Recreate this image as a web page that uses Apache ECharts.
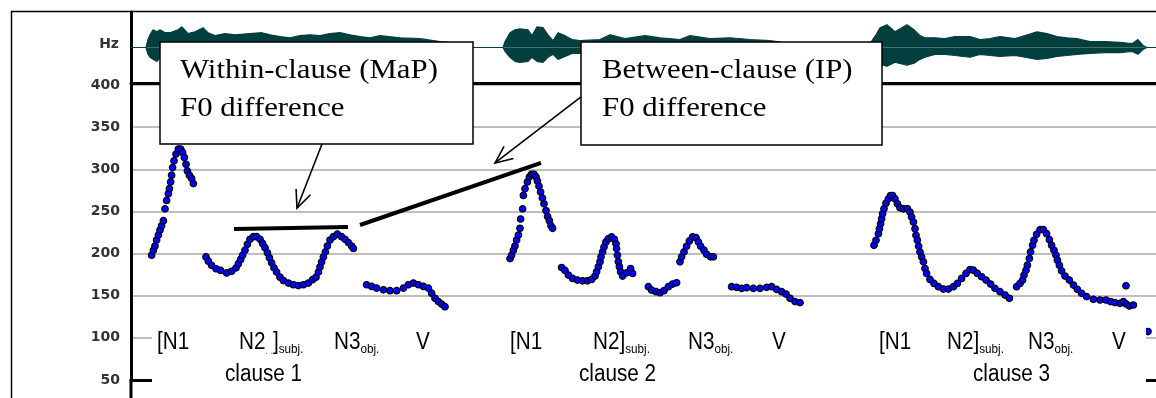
<!DOCTYPE html>
<html>
<head>
<meta charset="utf-8">
<script src="https://cdn.jsdelivr.net/npm/echarts@6/dist/echarts.min.js"></script>
<style>
  html, body { margin: 0; padding: 0; background: #fff; }
  #chart { width: 1156px; height: 398px; }
</style>
</head>
<body>
<div id="chart"></div>
<script>
// ---------------- data ----------------
// time axis in milliseconds
const timeMax = 5125;

// waveform amplitude envelope (upper / lower), relative units
const waveTime  = [0, 75, 85, 95, 110, 130, 145, 170, 195, 235, 255, 285, 320, 360, 385, 420, 470, 520, 595, 655, 695, 745, 795, 845, 895, 945, 995, 1045, 1095, 1145, 1195, 1245, 1345, 1445, 1545, 1645, 1685,
                   1860, 1870, 1895, 1920, 1945, 1985, 2005, 2030, 2060, 2085, 2110, 2135, 2170, 2205, 2245, 2345, 2395, 2470, 2570, 2645, 2745, 2795, 2895, 2995, 3095, 3195, 3295, 3495, 3695,
                   3725, 3745, 3780, 3820, 3880, 3915, 3945, 3970, 4020, 4070, 4120, 4195, 4245, 4295, 4345, 4420, 4470, 4530, 4580, 4630, 4680, 4730, 4795, 4870, 4945, 5005, 5035, 5060, 5080, 5125];
const waveUpper = [0, 0, 0.27, 0.43, 0.60, 0.53, 0.60, 0.50, 0.50, 0.60, 0.70, 0.47, 0.53, 0.67, 0.50, 0.40, 0.47, 0.43, 0.47, 0.50, 0.43, 0.37, 0.33, 0.40, 0.43, 0.40, 0.47, 0.50, 0.43, 0.37, 0.33, 0.40, 0.33, 0.30, 0.20, 0.13, 0,
                   0, 0.20, 0.50, 0.60, 0.63, 0.60, 0.40, 0.70, 0.67, 0.43, 0.23, 0.50, 0.40, 0.27, 0.23, 0.27, 0.43, 0.30, 0.40, 0.33, 0.27, 0.40, 0.30, 0.33, 0.27, 0.23, 0.13, 0.10, 0.13,
                   0.43, 0.67, 0.77, 0.53, 0.77, 0.60, 0.40, 0.33, 0.33, 0.30, 0.37, 0.37, 0.27, 0.30, 0.37, 0.30, 0.40, 0.53, 0.47, 0.37, 0.33, 0.30, 0.20, 0.20, 0.17, 0.13, 0.27, 0.07, 0, 0];
const waveLower = [0, 0, -0.23, -0.33, -0.40, -0.47, -0.33, -0.30, -0.33, -0.40, -0.47, -0.33, -0.27, -0.40, -0.27, -0.23, -0.33, -0.30, -0.30, -0.33, -0.27, -0.23, -0.20, -0.27, -0.30, -0.23, -0.30, -0.33, -0.27, -0.23, -0.20, -0.27, -0.20, -0.20, -0.17, -0.13, 0,
                   0, -0.13, -0.33, -0.47, -0.50, -0.47, -0.33, -0.47, -0.50, -0.33, -0.23, -0.40, -0.30, -0.20, -0.20, -0.23, -0.33, -0.23, -0.30, -0.27, -0.23, -0.33, -0.27, -0.27, -0.23, -0.20, -0.13, -0.10, -0.13,
                   -0.33, -0.57, -0.63, -0.50, -0.60, -0.53, -0.40, -0.33, -0.23, -0.23, -0.27, -0.33, -0.23, -0.27, -0.30, -0.27, -0.33, -0.40, -0.37, -0.30, -0.27, -0.23, -0.20, -0.17, -0.17, -0.13, -0.23, -0.07, 0, 0];

// F0 track, [time ms, Hz]
const clause1Track = [
  [103,198],[112,204],[120,209],[128,216],[137,222],[145,228],[153,233],[162,239],[170,253],[178,263],[187,271],[192,277],[198,285],[203,293],[208,302],[215,310],[225,318],[237,324],[248,324],[258,320],[267,314],[275,306],[282,298],[292,293],[303,289],[312,283],
  [375,196],[387,191],[403,186],[425,182],[448,180],[478,177],[503,179],[525,183],[537,188],[548,193],[558,198],[570,204],[582,211],[595,217],[612,220],[628,220],[645,217],[658,212],[670,207],[682,201],[692,195],[703,189],[715,183],[728,178],[745,172],[762,168],[787,165],[812,163],[837,162],[862,163],[887,165],[908,169],[925,172],[937,178],[945,184],[953,190],[962,196],[972,202],[982,209],[995,216],[1012,220],[1032,223],[1053,220],[1070,217],[1087,213],[1103,209],[1112,206],
  [1178,163],[1203,161],[1228,159],[1262,157],[1295,156],[1328,156],[1362,159],[1387,163],[1412,165],[1437,163],[1462,161],[1487,159],[1503,153],[1520,147],[1537,143],[1553,140],[1570,137]
];
const clause2Track = [
  [1895,194],[1903,198],[1912,204],[1920,209],[1928,216],[1937,222],[1945,230],[1948,241],[1958,253],[1962,269],[1970,277],[1982,285],[1992,291],[2003,294],[2015,294],[2025,291],[2032,286],[2040,280],[2048,273],[2057,266],[2065,259],[2075,251],[2083,244],[2092,239],[2100,233],[2108,230],
  [2153,183.5],[2170,180],[2187,174.5],[2208,170.5],[2232,168.5],[2258,167.7],[2282,167.7],[2303,169.3],[2320,173.3],[2328,178.4],[2337,184.3],[2345,190.2],[2350,196.1],[2358,202],[2365,207.9],[2375,213.8],[2387,217.7],[2403,219.7],[2417,217],[2425,211.8],[2428,205.9],[2432,198],[2437,190.2],[2442,184.3],[2448,178.4],[2458,173.3],[2478,177.2],[2498,182.3],[2508,176.4],
  [2587,160.7],[2603,156.7],[2625,154.8],[2645,153.6],[2665,156],[2687,160.7],[2708,163.8],[2728,165.4],
  [2745,190.2],[2753,196.1],[2765,202],[2778,208.7],[2792,215],[2808,219.7],[2825,218.9],[2837,213.8],[2848,208.7],[2865,204],[2878,199.2],[2898,196.1],[2912,196.1],
  [3003,160.7],[3028,159.9],[3053,158.7],[3078,159.5],[3112,158.7],[3145,158.7],[3178,159.9],[3203,160.7],[3228,157.5],[3253,154.8],[3275,152],[3295,146.9],[3320,143],[3345,141.8]
];
const clause3Track = [
  [3715,209.8],[3725,215.7],[3737,223.6],[3742,229.5],[3748,235.4],[3753,241.3],[3758,247.2],[3765,253.1],[3775,259.8],[3787,264.9],[3798,268.9],[3808,268.9],[3820,264.9],[3832,259],[3845,254.3],[3862,253.1],[3882,253.1],[3895,249.2],[3903,243.3],[3912,237.4],[3920,229.5],[3925,221.7],[3932,215.7],[3938,208.7],[3945,202],[3953,196.1],[3962,190.2],[3970,182.3],[3978,176.4],[3995,169.3],[4015,164.6],[4037,160.7],[4062,157.9],[4087,157.9],[4112,160.7],[4132,164.6],[4153,170.5],[4175,176.4],[4195,181.1],[4212,180.3],[4232,176.4],[4253,172.5],[4275,168.5],[4298,163.8],[4320,158.7],[4345,154.8],[4370,150.8],[4392,146.9],
  [4428,160.7],[4445,164.6],[4458,168.5],[4465,174.4],[4475,180.3],[4482,186.2],[4492,194.1],[4498,202],[4508,209.8],[4515,215.7],[4528,222.8],[4545,228.3],[4562,228.3],[4578,223.6],[4592,216.5],[4603,209.8],[4615,203.9],[4625,198],[4632,192.1],[4642,186.2],[4653,179.5],[4670,173.3],[4692,168.5],[4712,162.6],[4732,157.5],[4753,152.8],[4778,148.9],[4812,145.7],[4845,144.9],[4875,144.9],[4898,143],[4920,141.8],[4945,141],[4962,143],[4975,140.2],[4992,137.8],[5012,139]
];
const strayPoints = [[4975,161.8],[5085,107.5]];

// F0 levels compared in the callouts: [time ms, Hz]
const mapLevel = [[515,229.2],[1085,231.5]];
const ipLevel  = [[1145,233.9],[2050,307.5]];
// callout arrows: from box to level line, [time ms, Hz]
const mapArrow = [[955,330],[830,254]];
const ipArrow  = [[2250,385.8],[1820,307.5]];

// word and clause labels with their onsets (ms)
const wordLabels = [
  '{w|[N1}', '{w|N2}{d|. .}{w|]}{s|subj.}', '{w|N3}{s|obj.}', '{w|V}',
  '{w|[N1}', '{w|N2]}{s|subj.}', '{w|N3}{s|obj.}', '{w|V}',
  '{w|[N1}', '{w|N2]}{s|subj.}', '{w|N3}{s|obj.}', '{w|V}'
];
const wordOnsets = [130, 540, 1015, 1425, 1895, 2310, 2785, 3205, 3740, 4080, 4485, 4905];
const clauseLabels = ['clause 1', 'clause 2', 'clause 3'];
const clauseOnsets = [470, 2240, 4210];

const calloutTexts = [
  ['Within-clause (MaP)', 'F0 difference'],
  ['Between-clause (IP)', 'F0 difference']
];

// ---------------- chart ----------------
const waveColor = '#043f3f';
const tickFont = { fontFamily: 'DejaVu Sans', fontSize: 14, fontWeight: 'bold', color: '#333333' };

const hiddenAxisBits = { axisTick: { show: false }, axisLabel: { show: false }, splitLine: { show: false } };
const dotStyle = { color: '#0000ff', borderColor: '#000', borderWidth: 1.2, opacity: 1 };

const option = {
  animation: false,
  backgroundColor: '#ffffff',
  grid: [
    { left: 131, right: 0, top: 12, height: 71 },
    { left: 131, right: 0, top: 85, height: 295 }
  ],
  xAxis: [
    Object.assign({ gridIndex: 0, type: 'value', min: 0, max: timeMax,
      axisLine: { onZero: false, lineStyle: { color: '#000', width: 3 } } }, hiddenAxisBits),
    Object.assign({ gridIndex: 1, type: 'value', min: 0, max: timeMax,
      axisLine: { onZero: false, lineStyle: { color: '#000', width: 3 } } }, hiddenAxisBits)
  ],
  yAxis: [
    Object.assign({ gridIndex: 0, type: 'value', min: -1.2, max: 1.2,
      axisLine: { show: true, onZero: false, lineStyle: { color: '#000', width: 3 } } }, hiddenAxisBits),
    { gridIndex: 1, type: 'value', min: 50, max: 400, interval: 50,
      axisLine: { show: true, onZero: false, lineStyle: { color: '#000', width: 3 } },
      axisTick: { show: false },
      axisLabel: Object.assign({ margin: 11 }, tickFont),
      splitLine: { lineStyle: { color: '#a9a9a9', width: 1.5 } } }
  ],
  series: [
    { type: 'line', xAxisIndex: 0, yAxisIndex: 0, symbol: 'none', silent: true,
      data: waveTime.map((t, i) => [t, waveUpper[i]]),
      lineStyle: { color: waveColor, width: 1.2 }, areaStyle: { color: waveColor, opacity: 1 } },
    { type: 'line', xAxisIndex: 0, yAxisIndex: 0, symbol: 'none', silent: true,
      data: waveTime.map((t, i) => [t, waveLower[i]]),
      lineStyle: { color: waveColor, width: 1.2 }, areaStyle: { color: waveColor, opacity: 1 } },
    { type: 'scatter', xAxisIndex: 1, yAxisIndex: 1, data: clause1Track, symbolSize: 6.5, itemStyle: dotStyle },
    { type: 'scatter', xAxisIndex: 1, yAxisIndex: 1, data: clause2Track, symbolSize: 6.5, itemStyle: dotStyle },
    { type: 'scatter', xAxisIndex: 1, yAxisIndex: 1, data: clause3Track, symbolSize: 6.5, itemStyle: dotStyle },
    { type: 'scatter', xAxisIndex: 1, yAxisIndex: 1, data: strayPoints, symbolSize: 6.5, itemStyle: dotStyle },
    { type: 'line', xAxisIndex: 1, yAxisIndex: 1, data: mapLevel, symbol: 'none', z: 5,
      lineStyle: { color: '#000', width: 4 } },
    { type: 'line', xAxisIndex: 1, yAxisIndex: 1, data: ipLevel, symbol: 'none', z: 5,
      lineStyle: { color: '#000', width: 4 } }
  ]
};

const chart = echarts.init(document.getElementById('chart'), null, { renderer: 'canvas' });
chart.setOption(option);

// ---------------- overlay: frame, labels, callouts ----------------
const toPx = p => chart.convertToPixel({ gridIndex: 1 }, p);
const tToX = t => chart.convertToPixel({ xAxisIndex: 1 }, t);

function arrowElements(pair) {
  const a = toPx(pair[0]), b = toPx(pair[1]);
  const ang = Math.atan2(b[1] - a[1], b[0] - a[0]);
  const len = 19, spread = 0.42;
  const w1 = [b[0] - len * Math.cos(ang - spread), b[1] - len * Math.sin(ang - spread)];
  const w2 = [b[0] - len * Math.cos(ang + spread), b[1] - len * Math.sin(ang + spread)];
  const st = { stroke: '#000', lineWidth: 1.6, fill: null };
  return [
    { type: 'line', z: 40, shape: { x1: a[0], y1: a[1], x2: b[0], y2: b[1] }, style: st },
    { type: 'polyline', z: 40, shape: { points: [w1, b, w2] }, style: st }
  ];
}

const richWord = {
  w: { fontSize: 23, fontFamily: 'Liberation Sans', fill: '#000', lineHeight: 26 },
  s: { fontSize: 13, fontFamily: 'Liberation Sans', fill: '#000', lineHeight: 14, verticalAlign: 'bottom' },
  d: { fontSize: 10, fontFamily: 'Liberation Sans', fill: '#666', lineHeight: 13, verticalAlign: 'bottom' }
};

const elements = [];
// outer frame and axis extension
elements.push({ type: 'line', z: 60, shape: { x1: 11, y1: 11.5, x2: 1156, y2: 11.5 }, style: { stroke: '#000', lineWidth: 1.3 } });
elements.push({ type: 'line', z: 60, shape: { x1: 11.5, y1: 11, x2: 11.5, y2: 398 }, style: { stroke: '#000', lineWidth: 1.5 } });
elements.push({ type: 'line', z: 60, shape: { x1: 131, y1: 379, x2: 131, y2: 398 }, style: { stroke: '#000', lineWidth: 3 } });
elements.push({ type: 'text', z: 60, x: 119, y: 44,
  style: { text: 'Hz', fill: tickFont.color, font: 'bold 14px "DejaVu Sans"', textAlign: 'right', textVerticalAlign: 'middle' } });

// label panel
elements.push({ type: 'rect', z: 50, shape: { x: 152, y: 314, width: 994, height: 84 }, style: { fill: '#fff' } });
wordLabels.forEach((txt, i) => {
  elements.push({ type: 'text', z: 55, x: tToX(wordOnsets[i]), y: 343, scaleX: 0.9,
    style: { text: txt, rich: richWord, textAlign: 'left', textVerticalAlign: 'middle' } });
});
clauseLabels.forEach((txt, i) => {
  elements.push({ type: 'text', z: 55, x: tToX(clauseOnsets[i]), y: 375, scaleX: 0.9,
    style: { text: txt, fill: '#000', font: '23px "Liberation Sans"', textAlign: 'left', textVerticalAlign: 'middle' } });
});

// callout boxes
const boxes = [
  { x: 160, y: 42, w: 313, h: 102, tx: 180 },
  { x: 581, y: 42, w: 301, h: 103, tx: 602 }
];
boxes.forEach((b, i) => {
  elements.push({ type: 'rect', z: 30, shape: { x: b.x, y: b.y, width: b.w, height: b.h },
    style: { fill: '#fff', stroke: '#000', lineWidth: 1.5 } });
  calloutTexts[i].forEach((line, k) => {
    elements.push({ type: 'text', z: 31, x: b.tx, y: 71 + k * 38, scaleX: 1.1,
      style: { text: line, fill: '#000', font: '28px "Liberation Serif"', textAlign: 'left', textVerticalAlign: 'middle' } });
  });
});

arrowElements(mapArrow).forEach(e => elements.push(e));
arrowElements(ipArrow).forEach(e => elements.push(e));

chart.setOption({ graphic: { elements: elements } });
</script>
</body>
</html>
